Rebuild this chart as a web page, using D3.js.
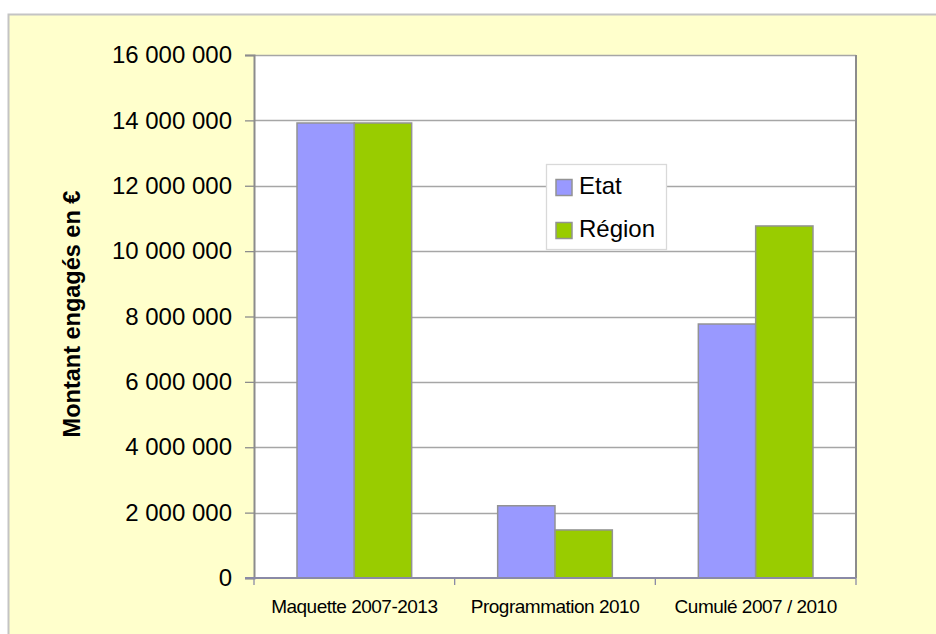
<html>
<head>
<meta charset="utf-8">
<script src="https://d3js.org/d3.v7.min.js"></script>
<style>
    body { margin: 0; background: #fff; }
    text { font-family: "Liberation Sans", Arial, sans-serif; fill: #000; }
</style>
</head>
<body>
<svg id="chart"></svg>
<script>
    // data
    var categories = ["Maquette 2007-2013", "Programmation 2010", "Cumulé 2007 / 2010"];
    var series = ["Etat", "Région"];
    var etatValues = [13920000, 2210000, 7770000];
    var regionValues = [13920000, 1470000, 10770000];
    var yTicks = [0, 2000000, 4000000, 6000000, 8000000, 10000000, 12000000, 14000000, 16000000];
    var colors = ["#9999FF", "#99CC00"];

    var width = 936, height = 634;
    var plot = { left: 254, right: 856, top: 55, bottom: 578 };

    var svg = d3.select("#chart")
        .attr("width", width)
        .attr("height", height);

    // chart area background
    svg.append("rect")
        .attr("x", 8.5).attr("y", 14.5)
        .attr("width", width).attr("height", height)
        .attr("fill", "#FFFFCC")
        .attr("stroke", "#c4c4c4")
        .attr("stroke-width", 2);

    svg.append("rect")
        .attr("x", plot.left).attr("y", plot.top)
        .attr("width", plot.right - plot.left).attr("height", plot.bottom - plot.top)
        .attr("fill", "#fff");

    var fr = d3.formatLocale({ decimal: ",", thousands: " ", grouping: [3], currency: ["", "€"] });
    var fmt = fr.format(",");

    var y = d3.scaleLinear()
        .domain([0, 16000000])
        .range([plot.bottom, plot.top]);

    var x0 = d3.scaleBand()
        .domain(categories)
        .range([plot.left, plot.right])
        .padding(0);

    var x1 = d3.scaleBand()
        .domain(series)
        .range([0, x0.bandwidth()])
        .paddingInner(0)
        .paddingOuter(0.75);

    // gridlines
    svg.append("g")
        .selectAll("line")
        .data(yTicks.slice(1))
        .enter()
        .append("line")
        .attr("x1", plot.left).attr("x2", plot.right)
        .attr("y1", d => Math.round(y(d)) + 0.5)
        .attr("y2", d => Math.round(y(d)) + 0.5)
        .attr("stroke", "#a6a6a6")
        .attr("stroke-width", 1.3);

    // plot right border
    svg.append("line")
        .attr("x1", plot.right).attr("x2", plot.right)
        .attr("y1", plot.top).attr("y2", plot.bottom)
        .attr("stroke", "#8c8c8c")
        .attr("stroke-width", 2);

    // bars
    var rows = categories.map((c, i) => ({ cat: c, values: [etatValues[i], regionValues[i]] }));

    var groups = svg.append("g")
        .selectAll("g")
        .data(rows)
        .enter()
        .append("g")
        .attr("transform", d => "translate(" + x0(d.cat) + ",0)");

    groups.selectAll("rect")
        .data(d => d.values.map((v, j) => ({ key: series[j], value: v, j: j })))
        .enter()
        .append("rect")
        .attr("x", d => x1(d.key))
        .attr("width", x1.bandwidth())
        .attr("y", d => y(d.value))
        .attr("height", d => y(0) - y(d.value))
        .attr("fill", d => colors[d.j])
        .attr("stroke", "#939393")
        .attr("stroke-width", 1.5);

    // y axis
    var yAxis = svg.append("g")
        .attr("transform", "translate(" + plot.left + ",0)")
        .call(d3.axisLeft(y).tickValues(yTicks).tickFormat(fmt).tickSize(9).tickPadding(13));
    yAxis.select(".domain").attr("stroke", "#8c8c8c").attr("stroke-width", 2);
    yAxis.selectAll(".tick line").attr("stroke", "#8c8c8c").attr("stroke-width", 1.3);
    yAxis.selectAll(".tick text")
        .style("font-size", "24px")
        .style("font-family", "'Liberation Sans', Arial, sans-serif");

    // x axis
    var xAxis = svg.append("g")
        .attr("transform", "translate(0," + plot.bottom + ")");
    xAxis.append("line")
        .attr("x1", plot.left - 9).attr("x2", plot.right)
        .attr("y1", 0).attr("y2", 0)
        .attr("stroke", "#8a8aa6")
        .attr("stroke-width", 2);
    xAxis.selectAll(".xt")
        .data(categories.concat(["end"]))
        .enter()
        .append("line")
        .attr("x1", (d, i) => i < categories.length ? x0(d) : plot.right)
        .attr("x2", (d, i) => i < categories.length ? x0(d) : plot.right)
        .attr("y1", 0).attr("y2", 7)
        .attr("stroke", "#8a8aa6")
        .attr("stroke-width", 1.3);
    xAxis.selectAll(".xl")
        .data(categories)
        .enter()
        .append("text")
        .attr("x", d => x0(d) + x0.bandwidth() / 2)
        .attr("y", 35)
        .attr("text-anchor", "middle")
        .style("font-size", "19px")
        .style("letter-spacing", "-0.5px")
        .text(d => d);

    // y title
    svg.append("text")
        .attr("transform", "translate(80,314) rotate(-90)")
        .attr("text-anchor", "middle")
        .style("font-size", "23.5px")
        .style("font-weight", "bold")
        .text("Montant engagés en €");

    // legend
    var legend = svg.append("g").attr("transform", "translate(546,164)");
    legend.append("rect")
        .attr("x", 0.5).attr("y", 0.5)
        .attr("width", 120).attr("height", 85)
        .attr("fill", "#fff")
        .attr("stroke", "#d9d9d9")
        .attr("stroke-width", 1.3);
    var items = legend.selectAll(".item")
        .data(series)
        .enter()
        .append("g")
        .attr("transform", (d, i) => "translate(0," + (i * 43) + ")");
    items.append("rect")
        .attr("x", 10).attr("y", 15.5)
        .attr("width", 16).attr("height", 16)
        .attr("fill", (d, i) => colors[i])
        .attr("stroke", "#939393")
        .attr("stroke-width", 1.5);
    items.append("text")
        .attr("x", 33).attr("y", 30)
        .style("font-size", "24px")
        .text(d => d);
</script>
</body>
</html>
